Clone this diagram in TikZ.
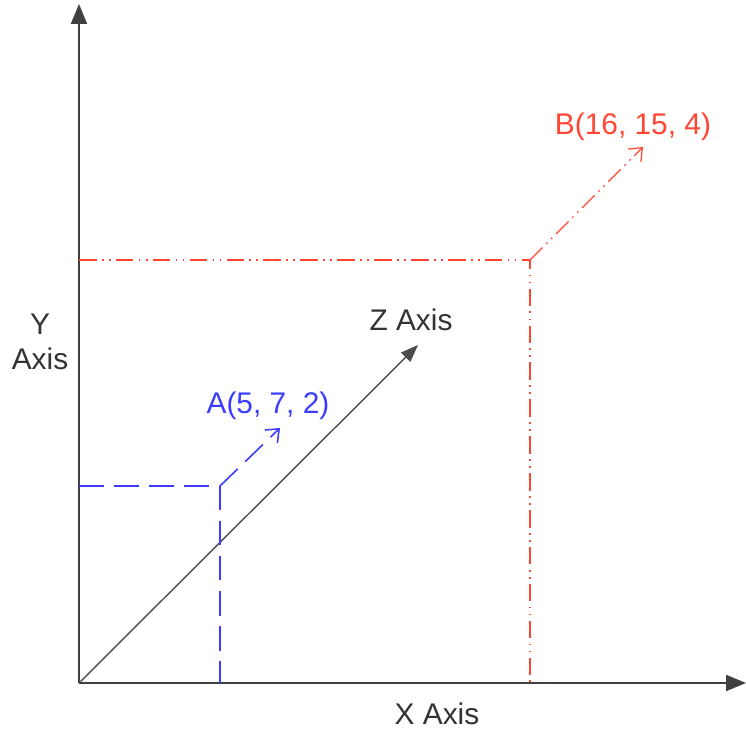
\documentclass[tikz,border=0pt]{standalone}
\usepackage{fontspec}
\setmainfont{Liberation Sans}
\usepackage{tikz}
\usetikzlibrary{arrows.meta,positioning}
\definecolor{ablue}{RGB}{60,60,255}
\definecolor{bred}{RGB}{255,70,50}

\begin{document}
\begin{tikzpicture}[
  x=0.02cm, y=0.02cm,
  font=\fontsize{17}{20}\selectfont,
  axis/.style={-{Triangle[length=4mm,width=3.2mm]}, line width=1.1pt, black!75},
  zaxis/.style={-{Triangle[length=3.5mm,width=2.6mm]}, line width=0.8pt, black!70},
  aline/.style={ablue, line width=0.9pt, dash pattern=on 14pt off 6pt},
  bline/.style={bred, line width=0.7pt, dash pattern=on 10pt off 3pt on 1pt off 3pt on 1pt off 3pt},
  proj/.style={-{Straight Barb[length=2.2mm,width=3.6mm]}},
  lbl/.style={align=center, inner sep=1pt}]
\useasboundingbox (0,0) rectangle (746,729);
% axes
\coordinate (O) at (79,46);
\coordinate (ytop) at (79,725);
\coordinate (xend) at (746,46);
\coordinate (zend) at (418,384);
\draw[axis] (O) -- (xend);
\draw[axis] (O) -- (ytop);
\draw[zaxis] (O) -- (zend);
\node[lbl, text=black!80] (xlbl) at (437,15) {X Axis};
\node[lbl, text=black!80] (ylbl) at (40,387) {Y\\Axis};
\node[lbl, text=black!80] (zlbl) at (411,409) {Z Axis};
% point A
\coordinate (A) at (220,243);
\coordinate (Ay) at (79,243);
\coordinate (Ax) at (220,46);
\coordinate (Atip) at (280,301);
\draw[aline] (Ay) -- (A) -- (Ax);
\draw[aline, proj] (A) -- (Atip);
\node[lbl, text=ablue] (alabel) at (268,323) {A(5, 7, 2)};
% point B
\coordinate (B) at (530,469);
\coordinate (By) at (79,469);
\coordinate (Bx) at (530,46);
\coordinate (Btip) at (643,582);
\draw[bline] (By) -- (B) -- (Bx);
\draw[bline, proj] (B) -- (Btip);
\node[lbl, text=bred] (blabel) at (633,602) {B(16, 15, 4)};
\end{tikzpicture}
\end{document}
